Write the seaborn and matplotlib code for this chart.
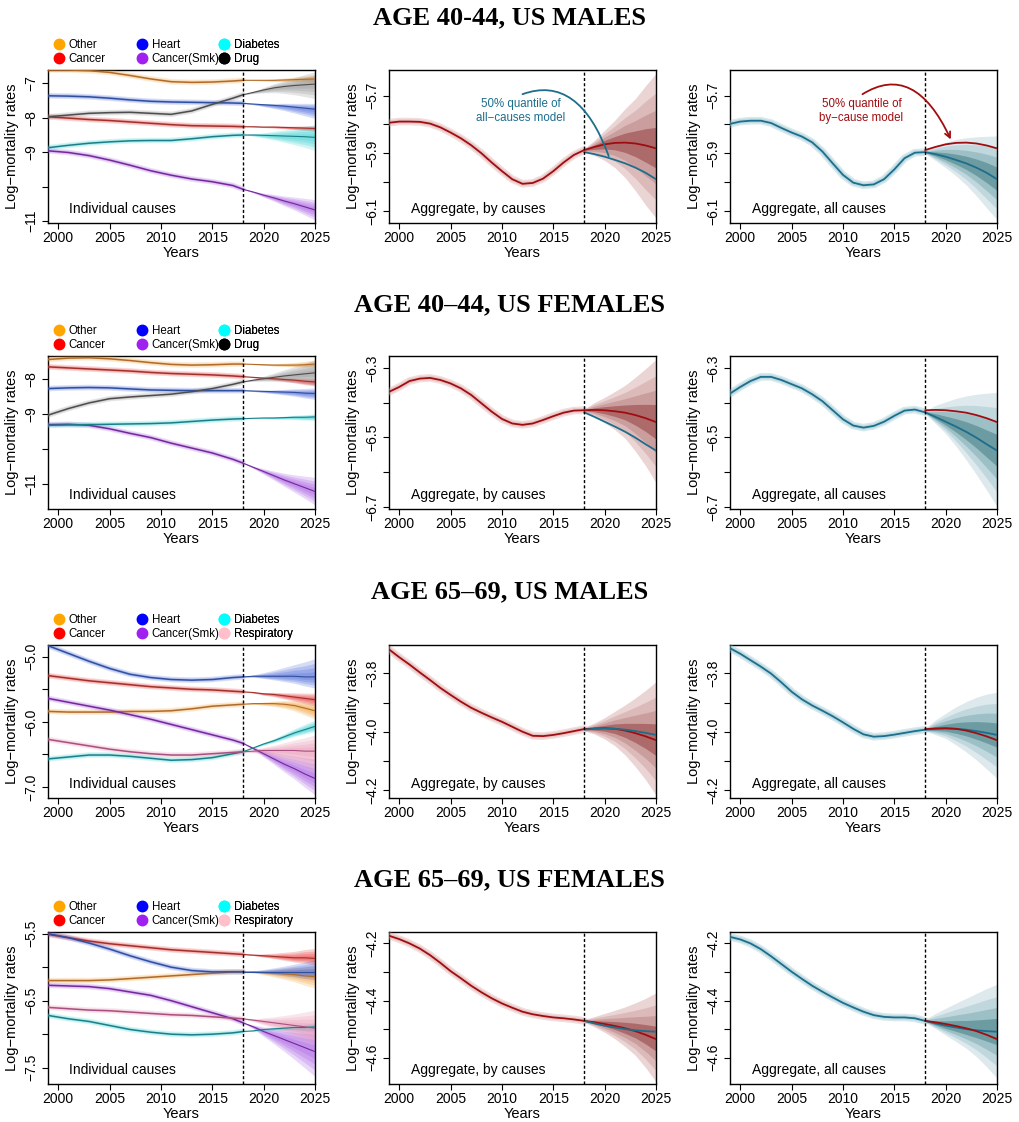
import numpy as np
import matplotlib
matplotlib.use("Agg")
import matplotlib.pyplot as plt
from matplotlib.lines import Line2D
import seaborn as sns

sns.set_theme(style="ticks")
plt.rcParams['font.family'] = ['Liberation Sans', 'DejaVu Sans']
plt.rcParams['axes.unicode_minus'] = True
plt.rcParams['text.color'] = 'black'
plt.rcParams['axes.labelcolor'] = 'black'
plt.rcParams['xtick.color'] = 'black'
plt.rcParams['ytick.color'] = 'black'

# ---------------- data ----------------
YEARS_HIST = list(range(1999, 2019))
YEARS_FC = list(range(2018, 2026))
YEARS_CAUSE = [1999, 2001, 2003, 2005, 2007, 2009, 2011, 2013, 2015, 2017, 2018]
# relative widening of the cause fans over the forecast years
FAN_SHAPE = [0.0, 0.08, 0.2, 0.33, 0.48, 0.64, 0.82, 1.0]
FAN_LEVELS = [1.0, 0.74, 0.51, 0.28]

CAUSES_A = ['Other', 'Cancer', 'Heart', 'Cancer(Smk)', 'Diabetes', 'Drug']
CAUSES_B = ['Other', 'Cancer', 'Heart', 'Cancer(Smk)', 'Diabetes', 'Respiratory']

# --- Age 40-44 males
m40_hist = {
    'Other': [-6.61, -6.61, -6.63, -6.68, -6.77, -6.87, -6.95, -6.97, -6.96, -6.93, -6.91],
    'Cancer': [-7.97, -8.01, -8.05, -8.08, -8.12, -8.16, -8.20, -8.23, -8.24, -8.25, -8.26],
    'Heart': [-7.36, -7.37, -7.39, -7.43, -7.48, -7.52, -7.54, -7.55, -7.56, -7.57, -7.58],
    'Cancer(Smk)': [-8.96, -9.01, -9.10, -9.23, -9.38, -9.54, -9.67, -9.78, -9.86, -9.97, -10.08],
    'Diabetes': [-8.87, -8.80, -8.74, -8.70, -8.67, -8.66, -8.66, -8.61, -8.55, -8.51, -8.50],
    'Drug': [-7.97, -7.92, -7.87, -7.85, -7.84, -7.87, -7.90, -7.80, -7.61, -7.43, -7.33],
}
m40_fc = {
    'Other': [-6.91, -6.91, -6.91, -6.91, -6.90, -6.89, -6.88, -6.87],
    'Cancer': [-8.26, -8.26, -8.27, -8.27, -8.28, -8.29, -8.30, -8.31],
    'Heart': [-7.58, -7.60, -7.62, -7.64, -7.66, -7.69, -7.72, -7.75],
    'Cancer(Smk)': [-10.08, -10.16, -10.25, -10.33, -10.42, -10.50, -10.59, -10.68],
    'Diabetes': [-8.50, -8.50, -8.51, -8.52, -8.53, -8.54, -8.55, -8.57],
    'Drug': [-7.33, -7.26, -7.19, -7.13, -7.09, -7.06, -7.04, -7.02],
}
m40_spread = {'Other': (0.12, 0.10), 'Cancer': (0.08, 0.08), 'Heart': (0.17, 0.27),
              'Cancer(Smk)': (0.30, 0.29), 'Diabetes': (0.37, 0.38), 'Drug': (0.36, 0.42)}
m40_bycause_hist = [-5.794, -5.790, -5.790, -5.791, -5.797, -5.810, -5.828, -5.848, -5.872, -5.900,
                    -5.932, -5.962, -5.990, -6.006, -6.003, -5.988, -5.962, -5.932, -5.906, -5.889]
m40_bycause_fc = [-5.889, -5.878, -5.869, -5.864, -5.863, -5.866, -5.873, -5.883]
m40_bycause_hi = [-5.884, -5.855, -5.820, -5.785, -5.745, -5.710, -5.665, -5.623]
m40_bycause_lo = [-5.894, -5.908, -5.925, -5.950, -5.985, -6.030, -6.080, -6.125]
m40_all_hist = [-5.798, -5.790, -5.787, -5.787, -5.795, -5.812, -5.828, -5.842, -5.862, -5.894,
                -5.935, -5.975, -6.002, -6.011, -6.008, -5.990, -5.956, -5.917, -5.898, -5.896]
m40_all_fc = [-5.896, -5.903, -5.912, -5.923, -5.935, -5.950, -5.968, -5.990]
m40_all_hi = [-5.890, -5.875, -5.862, -5.852, -5.846, -5.843, -5.841, -5.840]
m40_all_lo = [-5.900, -5.925, -5.950, -5.978, -6.010, -6.048, -6.090, -6.130]

# --- Age 40-44 females
f40_hist = {
    'Other': [-7.45, -7.41, -7.40, -7.43, -7.48, -7.54, -7.59, -7.61, -7.60, -7.58, -7.58],
    'Cancer': [-7.66, -7.69, -7.72, -7.75, -7.78, -7.82, -7.85, -7.87, -7.89, -7.92, -7.94],
    'Heart': [-8.28, -8.26, -8.25, -8.26, -8.29, -8.32, -8.33, -8.34, -8.34, -8.34, -8.34],
    'Cancer(Smk)': [-9.31, -9.30, -9.33, -9.43, -9.56, -9.68, -9.84, -9.98, -10.12, -10.30, -10.41],
    'Diabetes': [-9.33, -9.32, -9.31, -9.30, -9.29, -9.28, -9.26, -9.22, -9.18, -9.15, -9.14],
    'Drug': [-9.04, -8.85, -8.69, -8.57, -8.52, -8.48, -8.44, -8.37, -8.28, -8.16, -8.09],
}
f40_fc = {
    'Other': [-7.58, -7.59, -7.60, -7.61, -7.61, -7.61, -7.60, -7.58],
    'Cancer': [-7.94, -7.96, -7.98, -8.00, -8.02, -8.04, -8.07, -8.09],
    'Heart': [-8.34, -8.35, -8.36, -8.37, -8.38, -8.39, -8.41, -8.42],
    'Cancer(Smk)': [-10.41, -10.53, -10.65, -10.77, -10.89, -11.00, -11.11, -11.22],
    'Diabetes': [-9.14, -9.13, -9.12, -9.12, -9.11, -9.10, -9.10, -9.09],
    'Drug': [-8.09, -8.04, -8.00, -7.96, -7.92, -7.89, -7.86, -7.83],
}
f40_spread = {'Other': (0.12, 0.08), 'Cancer': (0.10, 0.12), 'Heart': (0.16, 0.17),
              'Cancer(Smk)': (0.40, 0.38), 'Diabetes': (0.09, 0.10), 'Drug': (0.37, 0.35)}
f40_bycause_hist = [-6.369, -6.355, -6.338, -6.331, -6.329, -6.335, -6.345, -6.359, -6.378, -6.402,
                    -6.426, -6.447, -6.460, -6.464, -6.460, -6.450, -6.439, -6.429, -6.423, -6.422]
f40_bycause_fc = [-6.422, -6.421, -6.422, -6.425, -6.429, -6.436, -6.445, -6.456]
f40_bycause_hi = [-6.418, -6.400, -6.385, -6.368, -6.350, -6.327, -6.302, -6.276]
f40_bycause_lo = [-6.426, -6.440, -6.458, -6.478, -6.503, -6.540, -6.582, -6.630]
f40_all_hist = [-6.374, -6.355, -6.338, -6.326, -6.326, -6.335, -6.347, -6.359, -6.376, -6.396,
                -6.422, -6.448, -6.466, -6.472, -6.467, -6.455, -6.438, -6.423, -6.420, -6.428]
f40_all_fc = [-6.428, -6.441, -6.455, -6.469, -6.484, -6.501, -6.520, -6.538]
f40_all_hi = [-6.424, -6.408, -6.398, -6.388, -6.381, -6.376, -6.373, -6.371]
f40_all_lo = [-6.432, -6.460, -6.489, -6.525, -6.565, -6.607, -6.652, -6.699]

# --- Age 65-69 males
m65_hist = {
    'Other': [-5.84, -5.85, -5.85, -5.85, -5.84, -5.84, -5.83, -5.80, -5.76, -5.74, -5.73],
    'Cancer': [-5.29, -5.33, -5.37, -5.40, -5.43, -5.46, -5.48, -5.50, -5.51, -5.53, -5.54],
    'Heart': [-4.83, -4.95, -5.07, -5.18, -5.27, -5.32, -5.35, -5.36, -5.35, -5.32, -5.31],
    'Cancer(Smk)': [-5.64, -5.70, -5.76, -5.82, -5.89, -5.96, -6.04, -6.12, -6.20, -6.28, -6.33],
    'Diabetes': [-6.57, -6.54, -6.51, -6.51, -6.53, -6.56, -6.59, -6.58, -6.55, -6.49, -6.46],
    'Respiratory': [-6.27, -6.32, -6.37, -6.42, -6.46, -6.49, -6.51, -6.51, -6.49, -6.47, -6.46],
}
m65_fc = {
    'Other': [-5.73, -5.72, -5.72, -5.72, -5.73, -5.75, -5.79, -5.83],
    'Cancer': [-5.54, -5.55, -5.57, -5.58, -5.60, -5.62, -5.64, -5.66],
    'Heart': [-5.31, -5.30, -5.30, -5.30, -5.30, -5.30, -5.31, -5.31],
    'Cancer(Smk)': [-6.33, -6.41, -6.49, -6.57, -6.65, -6.72, -6.80, -6.87],
    'Diabetes': [-6.46, -6.40, -6.34, -6.29, -6.23, -6.17, -6.12, -6.07],
    'Respiratory': [-6.46, -6.45, -6.44, -6.44, -6.44, -6.44, -6.45, -6.45],
}
m65_spread = {'Other': (0.12, 0.13), 'Cancer': (0.10, 0.10), 'Heart': (0.28, 0.17),
              'Cancer(Smk)': (0.30, 0.25), 'Diabetes': (0.10, 0.08), 'Respiratory': (0.25, 0.30)}
m65_bycause_hist = [-3.718, -3.745, -3.770, -3.797, -3.823, -3.850, -3.874, -3.897, -3.918, -3.935,
                    -3.951, -3.966, -3.983, -4.000, -4.014, -4.015, -4.011, -4.005, -3.998, -3.991]
m65_bycause_fc = [-3.991, -3.989, -3.988, -3.990, -3.996, -4.005, -4.016, -4.029]
m65_bycause_hi = [-3.985, -3.970, -3.952, -3.930, -3.908, -3.884, -3.858, -3.829]
m65_bycause_lo = [-3.997, -4.008, -4.025, -4.048, -4.080, -4.120, -4.165, -4.217]
m65_all_hist = [-3.714, -3.733, -3.755, -3.777, -3.801, -3.831, -3.863, -3.889, -3.910, -3.928,
                -3.947, -3.968, -3.990, -4.009, -4.017, -4.015, -4.010, -4.004, -3.998, -3.993]
m65_all_fc = [-3.993, -3.990, -3.989, -3.990, -3.993, -3.998, -4.004, -4.011]
m65_all_hi = [-3.988, -3.960, -3.937, -3.915, -3.897, -3.882, -3.871, -3.865]
m65_all_lo = [-3.998, -4.010, -4.023, -4.045, -4.069, -4.097, -4.128, -4.160]

# --- Age 65-69 females
f65_hist = {
    'Other': [-6.20, -6.20, -6.20, -6.19, -6.17, -6.15, -6.13, -6.11, -6.09, -6.07, -6.07],
    'Cancer': [-5.51, -5.56, -5.61, -5.65, -5.68, -5.71, -5.74, -5.76, -5.78, -5.80, -5.81],
    'Heart': [-5.50, -5.56, -5.64, -5.73, -5.83, -5.92, -6.00, -6.05, -6.07, -6.07, -6.07],
    'Cancer(Smk)': [-6.27, -6.28, -6.29, -6.32, -6.37, -6.42, -6.50, -6.59, -6.68, -6.77, -6.83],
    'Diabetes': [-6.72, -6.77, -6.81, -6.87, -6.93, -6.97, -7.00, -7.01, -7.00, -6.98, -6.96],
    'Respiratory': [-6.60, -6.62, -6.64, -6.65, -6.67, -6.69, -6.71, -6.72, -6.74, -6.76, -6.77],
}
f65_fc = {
    'Other': [-6.07, -6.07, -6.08, -6.09, -6.10, -6.11, -6.13, -6.14],
    'Cancer': [-5.81, -5.82, -5.83, -5.84, -5.85, -5.86, -5.86, -5.87],
    'Heart': [-6.07, -6.07, -6.07, -6.07, -6.07, -6.07, -6.07, -6.07],
    'Cancer(Smk)': [-6.83, -6.89, -6.96, -7.02, -7.08, -7.14, -7.20, -7.26],
    'Diabetes': [-6.96, -6.95, -6.93, -6.92, -6.91, -6.90, -6.90, -6.89],
    'Respiratory': [-6.77, -6.79, -6.81, -6.83, -6.85, -6.87, -6.89, -6.91],
}
f65_spread = {'Other': (0.17, 0.17), 'Cancer': (0.15, 0.10), 'Heart': (0.18, 0.12),
              'Cancer(Smk)': (0.35, 0.37), 'Diabetes': (0.06, 0.06), 'Respiratory': (0.27, 0.25)}
f65_bycause_hist = [-4.173, -4.185, -4.200, -4.218, -4.241, -4.268, -4.297, -4.322, -4.348, -4.371,
                    -4.392, -4.410, -4.425, -4.439, -4.448, -4.454, -4.459, -4.462, -4.466, -4.471]
f65_bycause_fc = [-4.471, -4.476, -4.482, -4.489, -4.497, -4.507, -4.520, -4.535]
f65_bycause_hi = [-4.466, -4.456, -4.445, -4.434, -4.422, -4.408, -4.392, -4.373]
f65_bycause_lo = [-4.476, -4.492, -4.511, -4.534, -4.561, -4.592, -4.635, -4.684]
f65_all_hist = [-4.177, -4.186, -4.200, -4.220, -4.245, -4.272, -4.299, -4.324, -4.348, -4.369,
                -4.389, -4.408, -4.424, -4.439, -4.451, -4.457, -4.459, -4.459, -4.462, -4.471]
f65_all_fc = [-4.471, -4.480, -4.488, -4.494, -4.500, -4.504, -4.507, -4.509]
f65_all_hi = [-4.466, -4.445, -4.427, -4.409, -4.392, -4.375, -4.358, -4.343]
f65_all_lo = [-4.476, -4.498, -4.521, -4.543, -4.567, -4.596, -4.632, -4.672]

TITLES = ['AGE 40-44, US MALES', 'AGE 40\u201344, US FEMALES',
          'AGE 65\u201369, US MALES', 'AGE 65\u201369, US FEMALES']
X_TICKS = [2000, 2005, 2010, 2015, 2020, 2025]

# y axis settings per row: (limits, ticks, labels) for cause panel and aggregate panels
CAUSE_YLIM = [(-11.06, -6.61), (-11.72, -7.35), (-7.17, -4.82), (-7.743, -5.475)]
CAUSE_YTICKS = [[-7, -8, -9, -10, -11], [-8, -9, -10, -11],
                [-5.0, -5.5, -6.0, -6.5, -7.0], [-5.5, -6.0, -6.5, -7.0, -7.5]]
CAUSE_YLABELS = [['\u22127', '\u22128', '\u22129', '', '\u221211'],
                 ['\u22128', '\u22129', '', '\u221211'],
                 ['\u22125.0', '', '\u22126.0', '', '\u22127.0'],
                 ['\u22125.5', '', '\u22126.5', '', '\u22127.5']]
AGG_YLIM = [(-6.142, -5.611), (-6.706, -6.266), (-4.227, -3.703), (-4.692, -4.160)]
AGG_YTICKS = [[-5.7, -5.8, -5.9, -6.0, -6.1], [-6.3, -6.4, -6.5, -6.6, -6.7],
              [-3.8, -3.9, -4.0, -4.1, -4.2], [-4.2, -4.3, -4.4, -4.5, -4.6]]
AGG_YLABELS = [['\u22125.7', '', '\u22125.9', '', '\u22126.1'],
               ['\u22126.3', '', '\u22126.5', '', '\u22126.7'],
               ['\u22123.8', '', '\u22124.0', '', '\u22124.2'],
               ['\u22124.2', '', '\u22124.4', '', '\u22124.6']]

# ---------------- styles ----------------
KEY_COL = {'Other': '#FFA500', 'Cancer': '#FF0000', 'Heart': '#0000FF', 'Cancer(Smk)': '#A020F0',
           'Diabetes': '#00FFFF', 'Drug': '#000000', 'Respiratory': '#FFC0CB'}
LINE_COL = {'Other': '#B06A2A', 'Cancer': '#A3302A', 'Heart': '#2F4F9F', 'Cancer(Smk)': '#74289A',
            'Diabetes': '#1A7F88', 'Drug': '#4D4D4D', 'Respiratory': '#A8507F'}
FAN_COL = {'Other': '#F2A035', 'Cancer': '#E83030', 'Heart': '#4060D8', 'Cancer(Smk)': '#A050E0',
           'Diabetes': '#30CFCF', 'Drug': '#8A8A8A', 'Respiratory': '#E890B0'}
RED = '#A00D10'
BLUE = '#1C6E8C'
RED_FAN = ['#EAD4D4', '#DCBABA', '#CB9E9E', '#AD6A6A']
BLUE_FAN = ['#DDE9EC', '#C0D8DD', '#9CC0C6', '#6C9BA2']

W, H = 1019, 1122
COL_LEFT = [48, 389, 730]
AX_W = 267
ROW_TOP = [70, 356, 645, 932]
ROW_BOT = [223, 509, 798, 1084]
TITLE_Y = [18, 305, 592, 880]

fig = plt.figure(figsize=(W / 100, H / 100), dpi=100)


def make_axes(row, col):
    t, b = ROW_TOP[row], ROW_BOT[row]
    ax = fig.add_axes([COL_LEFT[col] / W, 1 - b / H, AX_W / W, (b - t) / H])
    ax.set_xlim(1999, 2025)
    ax.set_xticks(X_TICKS)
    ax.tick_params(axis='both', direction='out', length=4, width=0.8, colors='black',
                   labelsize=10)
    ax.tick_params(axis='x', pad=1.5)
    ax.tick_params(axis='y', pad=3)
    for s in ax.spines.values():
        s.set_visible(True)
        s.set_color('black')
        s.set_linewidth(1.0)
    ax.set_xlabel('Years', fontsize=10.5, labelpad=1, color='black')
    ax.set_ylabel('Log\u2212mortality rates', fontsize=10.5, labelpad=4, color='black')
    ax.axvline(2018, color='black', ls=(0, (2.2, 1.6)), lw=1.0, zorder=6)
    return ax


def set_y(ax, lim, ticks, labels):
    ax.set_ylim(*lim)
    ax.set_yticks(ticks)
    ax.set_yticklabels(labels, rotation=90, va='center')


def glow_line(ax, x, y, color, glow, lw=1.3, gw=5.5, galpha=0.35):
    sns.lineplot(x=x, y=y, ax=ax, color=glow, lw=gw, alpha=galpha, zorder=3)
    sns.lineplot(x=x, y=y, ax=ax, color=glow, lw=gw * 0.6, alpha=galpha, zorder=3)
    sns.lineplot(x=x, y=y, ax=ax, color=color, lw=lw, zorder=4)


def agg_fan(ax, med, hi, lo, colors):
    med, hi, lo = np.asarray(med), np.asarray(hi), np.asarray(lo)
    for frac, c in zip(FAN_LEVELS, colors):
        ax.fill_between(YEARS_FC, med + frac * (hi - med), med - frac * (med - lo),
                        color=c, lw=0, zorder=2)


def cause_panel(ax, causes, hist, fc, spread):
    shape = np.asarray(FAN_SHAPE)
    for c in causes:
        med = np.asarray(fc[c])
        up, dn = spread[c]
        for frac in FAN_LEVELS:
            ax.fill_between(YEARS_FC, med + frac * up * shape, med - frac * dn * shape,
                            color=FAN_COL[c], alpha=0.22, lw=0, zorder=2)
        sns.lineplot(x=YEARS_FC, y=fc[c], ax=ax, color=LINE_COL[c], lw=0.8, zorder=4)
        glow_line(ax, YEARS_CAUSE, hist[c], LINE_COL[c], FAN_COL[c], lw=1.1, gw=4, galpha=0.2)
    ax.text(0.079, 0.09, 'Individual causes', transform=ax.transAxes, fontsize=10,
            ha='left', va='center')
    # key above the panel, three columns of two entries
    for k, xa in enumerate([0.019, 0.330, 0.637]):
        handles = [Line2D([], [], ls='', marker='o', markersize=7.5, color=KEY_COL[c],
                          label=c) for c in causes[2 * k:2 * k + 2]]
        leg = ax.legend(handles=handles, loc='lower left', bbox_to_anchor=(xa, 1.035),
                        frameon=False, fontsize=8.3, handlelength=1.0, handletextpad=0.35,
                        borderpad=0, borderaxespad=0, labelspacing=0.12)
        ax.add_artist(leg)


rows = [
    (CAUSES_A, m40_hist, m40_fc, m40_spread, m40_bycause_hist, m40_bycause_fc, m40_bycause_hi,
     m40_bycause_lo, m40_all_hist, m40_all_fc, m40_all_hi, m40_all_lo),
    (CAUSES_A, f40_hist, f40_fc, f40_spread, f40_bycause_hist, f40_bycause_fc, f40_bycause_hi,
     f40_bycause_lo, f40_all_hist, f40_all_fc, f40_all_hi, f40_all_lo),
    (CAUSES_B, m65_hist, m65_fc, m65_spread, m65_bycause_hist, m65_bycause_fc, m65_bycause_hi,
     m65_bycause_lo, m65_all_hist, m65_all_fc, m65_all_hi, m65_all_lo),
    (CAUSES_B, f65_hist, f65_fc, f65_spread, f65_bycause_hist, f65_bycause_fc, f65_bycause_hi,
     f65_bycause_lo, f65_all_hist, f65_all_fc, f65_all_hi, f65_all_lo),
]

for r, (causes, hist, fc, spread, bc_h, bc_f, bc_hi, bc_lo, al_h, al_f, al_hi, al_lo) in enumerate(rows):
    fig.text(0.5, 1 - TITLE_Y[r] / H, TITLES[r], ha='center', va='center', fontsize=19,
             fontweight='bold', color='black', family=['Liberation Serif', 'DejaVu Serif'])

    ax = make_axes(r, 0)
    cause_panel(ax, causes, hist, fc, spread)
    set_y(ax, CAUSE_YLIM[r], CAUSE_YTICKS[r], CAUSE_YLABELS[r])

    ax = make_axes(r, 1)
    agg_fan(ax, bc_f, bc_hi, bc_lo, RED_FAN)
    glow_line(ax, YEARS_HIST, bc_h, RED, '#D9A0A0')
    sns.lineplot(x=YEARS_FC, y=bc_f, ax=ax, color=RED, lw=1.3, zorder=4)
    sns.lineplot(x=YEARS_FC, y=al_f, ax=ax, color=BLUE, lw=1.3, zorder=5)
    ax.text(0.083, 0.09, 'Aggregate, by causes', transform=ax.transAxes, fontsize=10,
            ha='left', va='center')
    set_y(ax, AGG_YLIM[r], AGG_YTICKS[r], AGG_YLABELS[r])
    if r == 0:
        ax.annotate('', xy=(2020.4, -5.910), xytext=(2012.0, -5.695),
                    arrowprops=dict(arrowstyle='-', color=BLUE, lw=1.3, shrinkA=0, shrinkB=0,
                                    connectionstyle='angle3,angleA=20,angleB=110'), zorder=7)
        ax.text(2011.8, -5.753, '50% quantile of\nall\u2212causes model', color=BLUE,
                fontsize=8.3, ha='center', va='center', linespacing=1.15)

    ax = make_axes(r, 2)
    agg_fan(ax, al_f, al_hi, al_lo, BLUE_FAN)
    glow_line(ax, YEARS_HIST, al_h, BLUE, '#8FC0CC')
    sns.lineplot(x=YEARS_FC, y=al_f, ax=ax, color=BLUE, lw=1.3, zorder=4)
    sns.lineplot(x=YEARS_FC, y=bc_f, ax=ax, color=RED, lw=1.3, zorder=5)
    ax.text(0.083, 0.09, 'Aggregate, all causes', transform=ax.transAxes, fontsize=10,
            ha='left', va='center')
    set_y(ax, AGG_YLIM[r], AGG_YTICKS[r], AGG_YLABELS[r])
    if r == 0:
        ax.annotate('', xy=(2020.5, -5.852), xytext=(2011.9, -5.695),
                    arrowprops=dict(arrowstyle='->', color=RED, lw=1.3, shrinkA=0, shrinkB=0,
                                    mutation_scale=10,
                                    connectionstyle='angle3,angleA=32,angleB=115'), zorder=7)
        ax.text(2011.8, -5.753, '50% quantile of\nby\u2212cause model', color=RED,
                fontsize=8.3, ha='center', va='center', linespacing=1.15)

fig.savefig('out.png', dpi=100)
